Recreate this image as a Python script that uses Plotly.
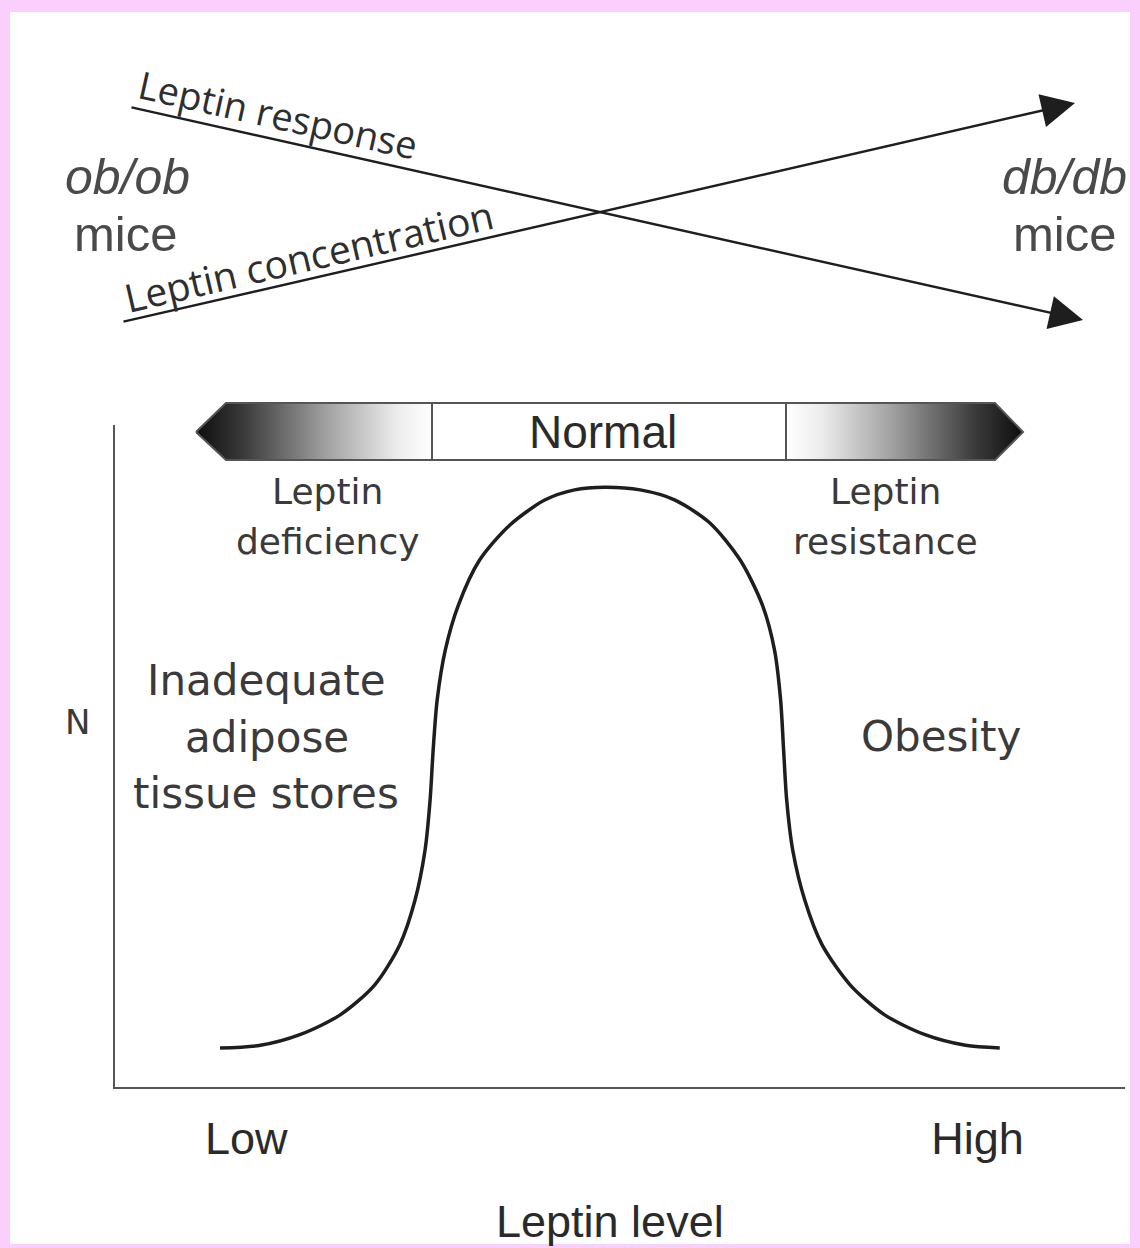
import plotly.graph_objects as go

# ---- data ----
leptin_level = [10.4, 14.4, 18.3, 22.3, 25.7, 28.2, 29.7, 30.7, 31.2, 31.5, 31.9, 32.7, 34.0,
                36.1, 39.1, 42.6, 45.5, 48.5, 52.0, 55.4, 58.9, 61.9, 64.1, 65.3, 65.9,
                66.2, 66.5, 67.1, 68.3, 70.0, 72.8, 76.2, 80.2, 84.2, 87.6]
n_value = [5.9, 6.3, 7.9, 10.9, 15.4, 21.5, 28.2, 35.8, 43.4, 50.9, 58.5, 66.0, 72.8,
           79.6, 84.9, 88.7, 90.2, 90.6, 90.2, 88.7, 85.2, 79.6, 72.8, 66.0, 58.5,
           50.9, 43.4, 35.8, 28.2, 21.5, 15.4, 10.9, 7.9, 6.3, 5.9]
tick_vals = [13.0, 85.4]
tick_text = ["Low", "High"]

W, H = 1140, 1248
PINK = "#FBCFFB"
TXT = "#3a3a3a"
LINE = "#1e1e1e"

fig = go.Figure()

# main curve
fig.add_trace(go.Scatter(x=leptin_level, y=n_value, mode="lines",
                         line=dict(color=LINE, width=3.5, shape="spline", smoothing=0.8),
                         hoverinfo="skip", showlegend=False))

# ---- decorative layer (full-figure frame) ----
grad_dark = [[0, "#0d0d0d"], [0.2, "#3a3a3a"], [0.55, "#a0a0a0"], [0.85, "#ececec"], [1, "#ffffff"]]
grad_light = [[0, "#ffffff"], [0.15, "#ececec"], [0.45, "#a0a0a0"], [0.8, "#3a3a3a"], [1, "#0d0d0d"]]

fig.add_trace(go.Scatter(x=[196, 226, 432, 432, 226, 196], y=[432, 403, 403, 460, 460, 432],
                         xaxis="x2", yaxis="y2", mode="lines", fill="toself",
                         fillgradient=dict(type="horizontal", colorscale=grad_dark),
                         line=dict(color="#555", width=2), hoverinfo="skip", showlegend=False))
fig.add_trace(go.Scatter(x=[432, 786, 786, 432, 432], y=[403, 403, 460, 460, 403],
                         xaxis="x2", yaxis="y2", mode="lines", fill="toself", fillcolor="white",
                         line=dict(color="#555", width=2), hoverinfo="skip", showlegend=False))
fig.add_trace(go.Scatter(x=[786, 995, 1023, 995, 786, 786], y=[403, 403, 432, 460, 460, 403],
                         xaxis="x2", yaxis="y2", mode="lines", fill="toself",
                         fillgradient=dict(type="horizontal", colorscale=grad_light),
                         line=dict(color="#555", width=2), hoverinfo="skip", showlegend=False))

annotations = []
# crossing arrows
annotations.append(dict(x=1083, y=320, ax=130, ay=107, xref="x2", yref="y2", axref="x2", ayref="y2",
                        showarrow=True, arrowhead=2, arrowsize=2.8, arrowwidth=2.4, arrowcolor=LINE, text=""))
annotations.append(dict(x=1075, y=103, ax=122, ay=322, xref="x2", yref="y2", axref="x2", ayref="y2",
                        showarrow=True, arrowhead=2, arrowsize=2.8, arrowwidth=2.4, arrowcolor=LINE, text=""))


def txt(s, x, y, size, family="DejaVu Sans", angle=0, color=TXT, xanchor="center"):
    annotations.append(dict(text=s, x=x, y=y, xref="x2", yref="y2", showarrow=False,
                            xanchor=xanchor, yanchor="middle", textangle=angle,
                            font=dict(size=size, family=family, color=color)))


txt("Leptin response", 278, 114, 38, family="Open Sans", angle=12.6, color="#2e2e2e")
txt("Leptin concentration", 308, 255, 39, family="Open Sans", angle=-13, color="#2e2e2e")
txt("<i>ob/ob</i>", 127, 177, 50, family="Liberation Sans", color="#4a4a4a")
txt("mice", 125, 234, 49, family="Liberation Sans", color="#4a4a4a")
txt("<i>db/db</i>", 1064, 177, 50, family="Liberation Sans", color="#4a4a4a")
txt("mice", 1064, 234, 49, family="Liberation Sans", color="#4a4a4a")
txt("Normal", 603, 432, 46, family="Liberation Sans", color="#2a2a2a")
txt("Leptin", 327, 491, 36)
txt("deficiency", 328, 541, 36)
txt("Leptin", 885, 491, 36)
txt("resistance", 885, 541, 36)
txt("Inadequate", 266, 680, 42)
txt("adipose", 267, 737, 42)
txt("tissue stores", 266, 793, 42)
txt("Obesity", 941, 736, 42)
txt("N", 77, 722, 34)
txt("Leptin level", 610, 1221, 45, family="Liberation Sans", color="#2a2a2a")

fig.update_layout(
    width=W, height=H,
    margin=dict(l=0, r=0, t=0, b=0),
    paper_bgcolor=PINK,
    plot_bgcolor="rgba(0,0,0,0)",
    showlegend=False,
    annotations=annotations,
    shapes=[dict(type="rect", xref="paper", yref="paper",
                 x0=10 / W, x1=1130 / W, y0=1 - 1244 / H, y1=1 - 12 / H,
                 fillcolor="white", line=dict(width=0), layer="below")],
    xaxis=dict(domain=[115 / W, 1125 / W], range=[0, 100], showgrid=False, zeroline=False,
               showline=True, linecolor="#555", linewidth=2, ticks="",
               tickvals=tick_vals, ticktext=tick_text, ticklabelstandoff=11,
               tickfont=dict(size=45, family="Liberation Sans", color="#2a2a2a")),
    yaxis=dict(domain=[1 - 1087 / H, 1 - 425 / H], range=[0, 100], showgrid=False, zeroline=False,
               showline=True, linecolor="#555", linewidth=2, ticks="", showticklabels=False),
    xaxis2=dict(domain=[0, 1], range=[0, W], anchor="y2", visible=False, fixedrange=True),
    yaxis2=dict(domain=[0, 1], range=[H, 0], anchor="x2", visible=False, fixedrange=True),
)

fig.write_html("out.html", config={"displayModeBar": False},
               post_script="document.body.style.margin='0px';")
